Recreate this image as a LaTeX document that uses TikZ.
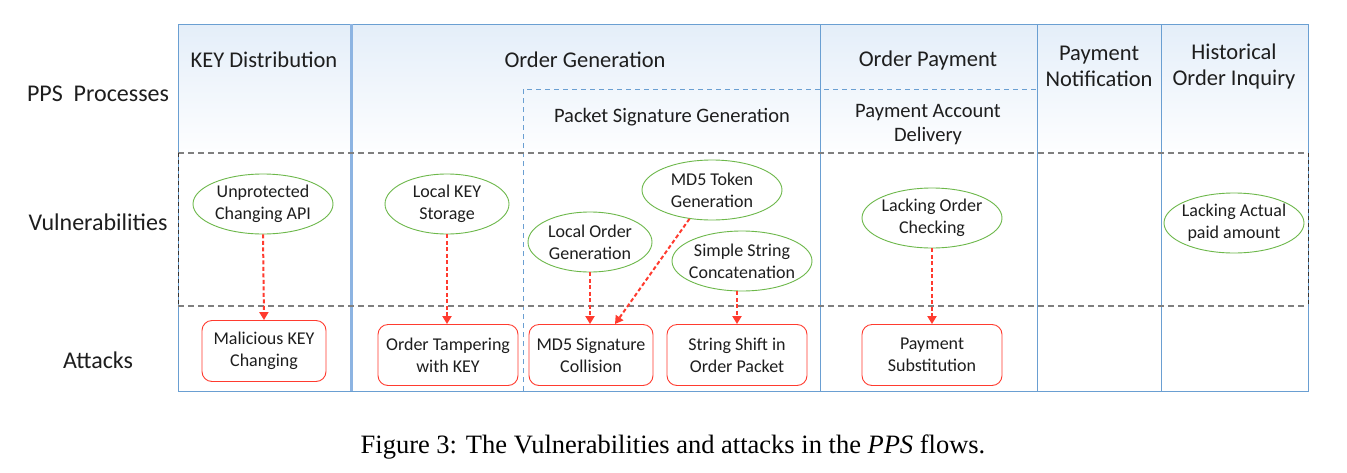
\documentclass[tikz,border=0pt]{standalone}
\usepackage{fontspec}
\setmainfont{Carlito}
\newfontfamily\capfont{Liberation Serif}
\usetikzlibrary{shapes.geometric,arrows.meta}
\definecolor{frameblue}{HTML}{6A9FD2}
\definecolor{divblue}{HTML}{8DB4E2}
\definecolor{lightbg}{HTML}{E4EEF9}
\definecolor{dgray}{HTML}{7F7F7F}
\definecolor{vgreen}{HTML}{6DB84A}
\definecolor{ared}{HTML}{FF3B2F}
\definecolor{txt}{HTML}{1E1E1E}
\newcommand{\zl}[1]{\makebox[0pt]{#1}}
\tikzset{
  hdr/.style={font=\fontsize{22.5}{26}\selectfont, text=txt, align=center},
  sub/.style={font=\fontsize{20.5}{24}\selectfont, text=txt, align=center},
  rowlab/.style={font=\fontsize{24}{28}\selectfont, text=txt},
  vuln/.style={ellipse, draw=vgreen, line width=0.9pt, fill=white, minimum width=140pt, minimum height=60pt, inner sep=0pt, align=center, font=\fontsize{18}{22}\selectfont, text=txt},
  attack/.style={rectangle, rounded corners=10pt, draw=ared, line width=0.9pt, fill=white, minimum height=61pt, inner sep=0pt, align=center, font=\fontsize{18}{22}\selectfont, text=txt},
  link/.style={draw=ared, line width=2pt, dash pattern=on 4pt off 2.5pt, -{Triangle[width=9pt,length=8pt]}},
  grayd/.style={draw=dgray, line width=1.2pt, dash pattern=on 6pt off 4pt},
  blued/.style={draw=frameblue, line width=1pt, dash pattern=on 5pt off 4pt}
}
\begin{document}
\begin{tikzpicture}[x=1pt,y=-1pt]
\useasboundingbox[fill=white] (0,0) rectangle (1347,472);
% column shadings
\foreach \a/\b in {178/350,352/820,820/1037,1037/1161,1161/1308}{
  \shade[top color=lightbg, bottom color=white] (\a,24) rectangle (\b,160);
}
% frame
\draw[frameblue, line width=1pt] (178,24) rectangle (1308,391);
\draw[divblue, line width=3pt] (351,24) -- (351,391);
\draw[frameblue, line width=1pt] (820,24) -- (820,391);
\draw[frameblue, line width=1pt] (1037,24) -- (1037,391);
\draw[frameblue, line width=1pt] (1161,24) -- (1161,391);
% packet signature dashed box
\draw[blued] (523,391) -- (523,89) -- (1037,89);
% vulnerabilities dashed band
\draw[grayd] (178,153) -- (1308,153);
\draw[grayd] (178,306) -- (1308,306);
\draw[draw=black!80, line width=1pt, dash pattern=on 4pt off 3pt] (178,153) -- (178,306);
\draw[draw=black!80, line width=1pt, dash pattern=on 4pt off 3pt] (1308,153) -- (1308,306);
% row labels
\node[rowlab] (lp) at (98,94) {PPS\ \ Processes};
\node[rowlab] (lv) at (98,222) {Vulnerabilities};
\node[rowlab] (la) at (98,360) {Attacks};
% headers
\node[hdr] (h1) at (264,60) {KEY Distribution};
\node[hdr] (h2) at (585,60) {Order Generation};
\node[hdr] (h3) at (928,60) {Order Payment};
\node[hdr] (h4) at (1099,66) {Payment\\Notification};
\node[hdr] (h5) at (1234,66) {Historical\\Order Inquiry};
\node[sub] (s1) at (672,117) {Packet Signature Generation};
\node[sub] (s2) at (928,125) {Payment Account\\Delivery};
% vulnerabilities
\node[vuln] (v1) at (263,204) {\zl{Unprotected}\\\zl{Changing API}};
\node[vuln, minimum width=124pt] (v2) at (447,204) {\zl{Local KEY}\\\zl{Storage}};
\node[vuln, minimum width=124pt] (v3) at (590,242) {\zl{Local Order}\\\zl{Generation}};
\node[vuln] (v4) at (712,190) {\zl{MD5 Token}\\\zl{Generation}};
\node[vuln] (v5) at (742,261) {\zl{Simple String}\\\zl{Concatenation}};
\node[vuln] (v6) at (932,218) {\zl{Lacking Order}\\\zl{Checking}};
\node[vuln] (v7) at (1234,223) {\zl{Lacking Actual}\\\zl{paid amount}};
% attacks
\node[attack, minimum width=124pt] (a1) at (264,351) {Malicious KEY\\Changing};
\node[attack, minimum width=140pt] (a2) at (448,355) {Order Tampering\\with KEY};
\node[attack, minimum width=124pt] (a3) at (591,355) {MD5 Signature\\Collision};
\node[attack, minimum width=140pt] (a4) at (737,355) {String Shift in\\Order Packet};
\node[attack, minimum width=140pt] (a5) at (932,355) {Payment\\Substitution};
% links
\draw[link] (v1.south) -- (a1.north);
\draw[link] (v2.south) -- (a2.north -| v2.south);
\draw[link] (v3.south) -- (a3.north -| v3.south);
\draw[link] (v4.232) -- ([xshift=24pt]a3.north);
\draw[link] (v5.south -| a4.north) -- (a4.north);
\draw[link] (v6.south) -- (a5.north);
% caption
\node[font=\capfont\fontsize{26.5}{30}\selectfont, text=black] (cap) at (673,447) {Figure 3: The Vulnerabilities and attacks in the \textit{PPS} flows.};
\end{tikzpicture}
\end{document}
